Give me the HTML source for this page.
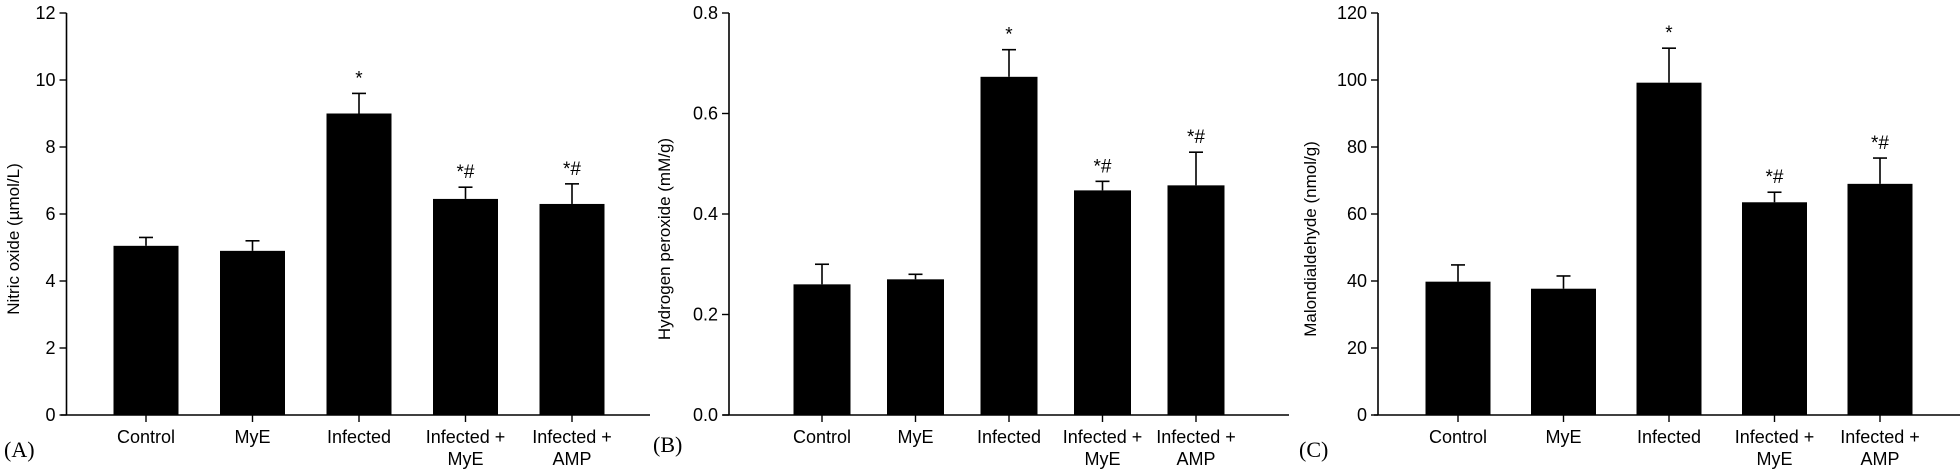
<!DOCTYPE html>
<html><head><meta charset="utf-8"><style>
html,body{margin:0;padding:0;background:#fff;}
svg{display:block;}
text{font-family:"Liberation Sans",Arial,sans-serif;fill:#000;}
.pl{font-family:"Liberation Serif",serif;font-size:22px;}
</style></head><body>
<svg id="chart" width="1960" height="472" viewBox="0 0 1960 472" xmlns="http://www.w3.org/2000/svg"></svg>
<script>
const categories = ["Control","MyE","Infected","Infected +|MyE","Infected +|AMP"];
const noValues = [5.05, 4.9, 9.0, 6.45, 6.3];
const noErrors = [0.25, 0.3, 0.6, 0.35, 0.6];
const noMarks = ["", "", "*", "*#", "*#"];
const noTicks = ["0","2","4","6","8","10","12"];
const h2o2Values = [0.26, 0.27, 0.673, 0.447, 0.457];
const h2o2Errors = [0.04, 0.01, 0.054, 0.018, 0.066];
const h2o2Marks = ["", "", "*", "*#", "*#"];
const h2o2Ticks = ["0.0","0.2","0.4","0.6","0.8"];
const mdaValues = [39.8, 37.7, 99.2, 63.5, 69.0];
const mdaErrors = [5.0, 3.8, 10.3, 3.0, 7.7];
const mdaMarks = ["", "", "*", "*#", "*#"];
const mdaTicks = ["0","20","40","60","80","100","120"];

const NS="http://www.w3.org/2000/svg";
const svg=document.getElementById('chart');
function mk(tag,attrs,parent){const e=document.createElementNS(NS,tag);for(const k in attrs)e.setAttribute(k,attrs[k]);(parent||svg).appendChild(e);return e;}

function panel(cfg){
  const g=mk('g',{});
  
  
  const y0=415, yTop=13;
  const maxV=parseFloat(cfg.ticks[cfg.ticks.length-1]);
  const yS=v=>y0-(v/maxV)*(y0-yTop);
  const xS=i=>cfg.firstX+i*cfg.step;
  // axes
  const ya=mk('line',{x1:cfg.axisX,y1:yTop,x2:cfg.axisX,y2:y0,stroke:'#000','stroke-width':1.6},g);
  
  
  const xa=mk('line',{x1:cfg.xStart,y1:y0,x2:cfg.xEnd,y2:y0,stroke:'#000','stroke-width':1.6},g);
  
  
  cfg.ticks.forEach(t=>{
    const y=yS(parseFloat(t));
    mk('line',{x1:cfg.axisX-7,y1:y,x2:cfg.axisX,y2:y,stroke:'#000','stroke-width':1.4},g);
    const tx=mk('text',{x:cfg.axisX-11,y:y+6,'text-anchor':'end','font-size':18},g);
    tx.textContent=t;
    
    
  });
  cfg.values.forEach((v,i)=>{
    const cx=xS(i);
    const b=mk('rect',{x:cx-cfg.bw/2,y:yS(v),width:cfg.bw,height:y0-yS(v),fill:'#000'},g);
    
    
    const et=yS(v+cfg.errors[i]);
    const e1=mk('line',{x1:cx,y1:yS(v),x2:cx,y2:et,stroke:'#000','stroke-width':1.6},g);
    
    
    mk('line',{x1:cx-7,y1:et,x2:cx+7,y2:et,stroke:'#000','stroke-width':1.6},g);
    mk('line',{x1:cx,y1:y0,x2:cx,y2:y0+7,stroke:'#000','stroke-width':1.4},g);
    if(cfg.marks[i]){
      const m=mk('text',{x:cx,y:et-9,'text-anchor':'middle','font-size':19},g);
      m.textContent=cfg.marks[i];
      
      
    }
    const parts=categories[i].split('|');
    parts.forEach((p,k)=>{
      const l=mk('text',{x:cx,y:443+k*22,'text-anchor':'middle','font-size':18},g);
      l.textContent=p;
      
      
    });
  });
  const ttl=mk('text',{x:0,y:0,'text-anchor':'middle','font-size':17,transform:`translate(${cfg.titleX},${(y0+yTop)/2+25}) rotate(-90)`},g);
  ttl.textContent=cfg.title;
  
  
  const pl=mk('text',{x:cfg.plX,y:cfg.plY,'class':'pl'},g);
  pl.textContent=cfg.pl;
  
  
}
panel({name:'panel-a-nitric-oxide',values:noValues,errors:noErrors,marks:noMarks,ticks:noTicks,axisX:66.5,xStart:61,xEnd:650,firstX:146,step:106.5,bw:65,title:'Nitric oxide (µmol/L)',titleX:19,pl:'(A)',plX:4,plY:457});
panel({name:'panel-b-hydrogen-peroxide',values:h2o2Values,errors:h2o2Errors,marks:h2o2Marks,ticks:h2o2Ticks,axisX:729,xStart:723,xEnd:1289,firstX:822,step:93.5,bw:57,title:'Hydrogen peroxide (mM/g)',titleX:670,pl:'(B)',plX:653,plY:452});
panel({name:'panel-c-malondialdehyde',values:mdaValues,errors:mdaErrors,marks:mdaMarks,ticks:mdaTicks,axisX:1378,xStart:1374,xEnd:1960,firstX:1458,step:105.5,bw:65,title:'Malondialdehyde (nmol/g)',titleX:1316,pl:'(C)',plX:1299,plY:457});
</script>
</body></html>
